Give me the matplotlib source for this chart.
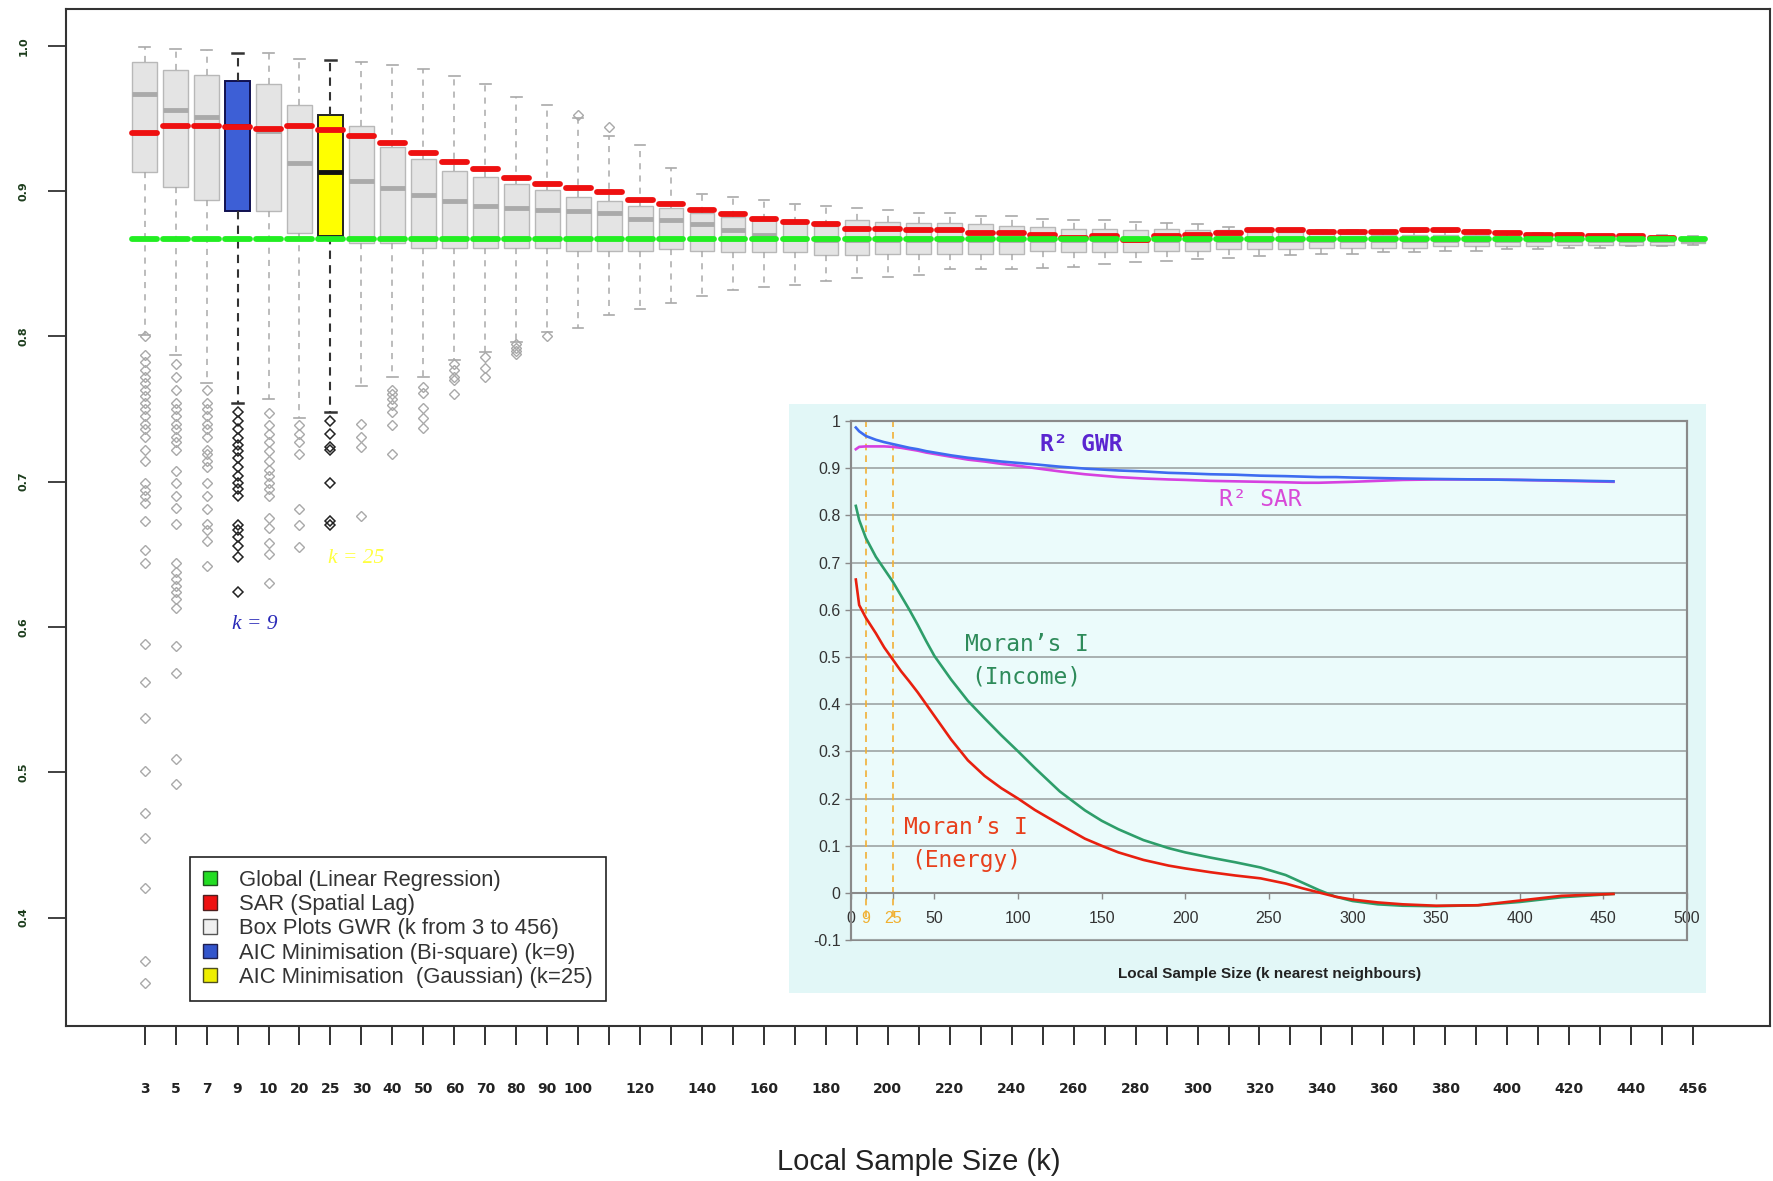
import numpy as np
import matplotlib
matplotlib.use('Agg')
import matplotlib.pyplot as plt
from matplotlib.patches import Patch, Rectangle

# ---------------- data ----------------
k_values = [3, 5, 7, 9, 10, 20, 25, 30, 40, 50, 60, 70, 80, 90, 100,
            110, 120, 130, 140, 150, 160, 170, 180, 190, 200, 210, 220, 230, 240, 250,
            260, 270, 280, 290, 300, 310, 320, 330, 340, 350, 360, 370, 380, 390, 400,
            410, 420, 430, 440, 450, 456]
tick_labels = ['3', '5', '7', '9', '10', '20', '25', '30', '40', '50', '60', '70', '80', '90', '100',
               '', '120', '', '140', '', '160', '', '180', '', '200', '', '220', '', '240', '',
               '260', '', '280', '', '300', '', '320', '', '340', '', '360', '', '380', '', '400',
               '', '420', '', '440', '', '456']

whis_hi = [0.999, 0.998, 0.997, 0.995, 0.995, 0.991, 0.990, 0.989, 0.987, 0.984,
           0.979, 0.974, 0.965, 0.959, 0.950, 0.938, 0.932, 0.916, 0.898, 0.896,
           0.894, 0.891, 0.890, 0.888, 0.887, 0.885, 0.885, 0.883, 0.883, 0.881,
           0.880, 0.880, 0.879, 0.878, 0.877, 0.875, 0.874, 0.874, 0.873, 0.873,
           0.872, 0.872, 0.872, 0.871, 0.871, 0.871, 0.870, 0.870, 0.870, 0.870, 0.869]
q3 = [0.989, 0.983, 0.980, 0.976, 0.974, 0.959, 0.952, 0.945, 0.930, 0.922,
      0.914, 0.910, 0.905, 0.901, 0.896, 0.893, 0.890, 0.888, 0.885, 0.882,
      0.880, 0.878, 0.876, 0.880, 0.879, 0.878, 0.878, 0.877, 0.876, 0.875,
      0.874, 0.874, 0.873, 0.874, 0.873, 0.873, 0.872, 0.872, 0.871, 0.871,
      0.870, 0.870, 0.870, 0.870, 0.869, 0.869, 0.869, 0.869, 0.868, 0.868, 0.868]
medians = [0.967, 0.956, 0.951, 0.945, 0.941, 0.919, 0.913, 0.907, 0.902, 0.897,
           0.893, 0.890, 0.888, 0.887, 0.886, 0.885, 0.881, 0.880, 0.877, 0.873,
           0.870, 0.867, 0.866, 0.866, 0.866, 0.866, 0.866, 0.866, 0.866, 0.866,
           0.866, 0.866, 0.866, 0.866, 0.866, 0.866, 0.866, 0.866, 0.866, 0.866,
           0.866, 0.866, 0.866, 0.866, 0.866, 0.866, 0.866, 0.866, 0.866, 0.866, 0.866]
q1 = [0.913, 0.903, 0.894, 0.886, 0.886, 0.871, 0.869, 0.864, 0.864, 0.861,
      0.861, 0.861, 0.861, 0.861, 0.859, 0.859, 0.859, 0.860, 0.859, 0.858,
      0.858, 0.858, 0.856, 0.856, 0.857, 0.857, 0.857, 0.857, 0.857, 0.859,
      0.858, 0.858, 0.858, 0.859, 0.859, 0.860, 0.860, 0.860, 0.861, 0.861,
      0.861, 0.861, 0.862, 0.862, 0.862, 0.862, 0.863, 0.863, 0.863, 0.863, 0.864]
whis_lo = [0.801, 0.787, 0.768, 0.754, 0.757, 0.744, 0.748, 0.766, 0.772, 0.772,
           0.784, 0.789, 0.796, 0.803, 0.806, 0.815, 0.819, 0.823, 0.828, 0.832,
           0.834, 0.835, 0.838, 0.840, 0.841, 0.842, 0.846, 0.846, 0.846, 0.847,
           0.848, 0.850, 0.851, 0.852, 0.853, 0.854, 0.855, 0.856, 0.857, 0.857,
           0.858, 0.858, 0.859, 0.859, 0.860, 0.860, 0.861, 0.861, 0.862, 0.862, 0.863]
outliers = {
    3: [0.800, 0.787, 0.782, 0.777, 0.772, 0.768, 0.763, 0.759, 0.754, 0.750, 0.745, 0.740,
        0.736, 0.731, 0.722, 0.714, 0.699, 0.694, 0.690, 0.685, 0.673, 0.653, 0.644, 0.588,
        0.562, 0.537, 0.501, 0.472, 0.455, 0.420, 0.370, 0.355],
    5: [0.781, 0.772, 0.763, 0.754, 0.750, 0.745, 0.740, 0.736, 0.731, 0.727, 0.722, 0.707,
        0.699, 0.690, 0.682, 0.671, 0.644, 0.638, 0.633, 0.628, 0.624, 0.619, 0.613, 0.587,
        0.568, 0.509, 0.492],
    7: [0.763, 0.754, 0.750, 0.745, 0.740, 0.736, 0.731, 0.722, 0.719, 0.714, 0.710, 0.699,
        0.690, 0.681, 0.671, 0.667, 0.659, 0.642],
    9: [0.748, 0.742, 0.736, 0.730, 0.725, 0.721, 0.716, 0.710, 0.704, 0.699, 0.695, 0.690,
        0.670, 0.667, 0.662, 0.656, 0.648, 0.624],
    10: [0.747, 0.739, 0.733, 0.727, 0.721, 0.714, 0.708, 0.704, 0.699, 0.695, 0.690, 0.675,
         0.668, 0.658, 0.650, 0.630],
    20: [0.739, 0.733, 0.727, 0.719, 0.681, 0.670, 0.655],
    25: [0.742, 0.733, 0.724, 0.722, 0.699, 0.673, 0.670],
    30: [0.740, 0.731, 0.724, 0.676],
    40: [0.763, 0.760, 0.757, 0.753, 0.748, 0.739, 0.719],
    50: [0.765, 0.761, 0.751, 0.744, 0.737],
    60: [0.781, 0.777, 0.772, 0.770, 0.760],
    70: [0.786, 0.778, 0.772],
    80: [0.795, 0.792, 0.790, 0.788],
    90: [0.800],
    100: [0.952],
    110: [0.944],
}
sar_r2 = [0.940, 0.945, 0.945, 0.944, 0.943, 0.945, 0.942, 0.938, 0.933, 0.926,
          0.920, 0.915, 0.909, 0.905, 0.902, 0.899, 0.894, 0.891, 0.887, 0.884,
          0.881, 0.879, 0.877, 0.874, 0.874, 0.873, 0.873, 0.871, 0.871, 0.870,
          0.868, 0.869, 0.866, 0.869, 0.870, 0.871, 0.873, 0.873, 0.872, 0.872,
          0.872, 0.873, 0.873, 0.872, 0.871, 0.870, 0.870, 0.869, 0.869, 0.868, np.nan]
global_r2 = 0.867
aic_k = [9, 25]

# inset data
inset_k = [3, 5, 9, 15, 20, 25, 30, 35, 40, 45, 50, 60, 70, 80, 90, 100, 110, 125, 140, 150,
           160, 175, 190, 200, 215, 230, 245, 260, 270, 280, 290, 300, 315, 330, 350, 375,
           400, 425, 456]
gwr_line = [0.986, 0.978, 0.968, 0.960, 0.955, 0.951, 0.947, 0.943, 0.940, 0.936, 0.933, 0.927,
            0.922, 0.918, 0.914, 0.911, 0.908, 0.903, 0.899, 0.897, 0.895, 0.893, 0.890, 0.889,
            0.887, 0.886, 0.884, 0.883, 0.882, 0.881, 0.881, 0.880, 0.879, 0.878, 0.877, 0.876,
            0.875, 0.874, 0.872]
sar_line = [0.940, 0.945, 0.946, 0.946, 0.946, 0.945, 0.943, 0.940, 0.937, 0.933, 0.930, 0.924,
            0.918, 0.914, 0.909, 0.905, 0.900, 0.893, 0.887, 0.884, 0.881, 0.878, 0.876, 0.875,
            0.873, 0.872, 0.871, 0.870, 0.869, 0.869, 0.870, 0.871, 0.873, 0.875, 0.876, 0.876,
            0.875, 0.873, 0.871]
moran_income = [0.820, 0.790, 0.752, 0.712, 0.686, 0.660, 0.630, 0.600, 0.568, 0.534, 0.502, 0.452,
                0.407, 0.370, 0.334, 0.300, 0.265, 0.215, 0.175, 0.153, 0.135, 0.112, 0.095, 0.086,
                0.075, 0.065, 0.054, 0.038, 0.022, 0.006, -0.008, -0.017, -0.024, -0.027, -0.028,
                -0.026, -0.019, -0.009, -0.002]
moran_energy = [0.664, 0.610, 0.583, 0.550, 0.520, 0.495, 0.470, 0.448, 0.425, 0.400, 0.375, 0.325,
                0.281, 0.248, 0.222, 0.200, 0.176, 0.145, 0.115, 0.100, 0.086, 0.070, 0.058, 0.052,
                0.044, 0.037, 0.031, 0.020, 0.010, 0.001, -0.008, -0.014, -0.020, -0.024, -0.027,
                -0.026, -0.016, -0.006, -0.002]

# ---------------- figure ----------------
fig = plt.figure(figsize=(17.74, 11.81), dpi=100)
ax = fig.add_axes([0.0372, 0.1312, 0.9608, 0.8612])
ax.set_facecolor('white')

pos = np.arange(1, len(k_values) + 1)
stats = []
for i, k in enumerate(k_values):
    stats.append(dict(med=medians[i], q1=q1[i], q3=q3[i], whislo=whis_lo[i],
                      whishi=whis_hi[i], fliers=outliers.get(k, [])))

special = {9: ('#3d5fd6', '#101050'), 25: ('#ffff00', '#222222')}
grey_i = [i for i, k in enumerate(k_values) if k not in special]

grey = '#a9a9a9'
ax.bxp([stats[i] for i in grey_i], positions=[pos[i] for i in grey_i], widths=0.8,
       capwidths=0.34, patch_artist=True, manage_ticks=False,
       boxprops=dict(facecolor='#e4e4e4', edgecolor='#b8b8b8', linewidth=1.0),
       medianprops=dict(color='#aaaaaa', linewidth=3.5, solid_capstyle='butt'),
       whiskerprops=dict(color=grey, linestyle=(0, (4, 4)), linewidth=1.1),
       capprops=dict(color=grey, linewidth=1.2),
       flierprops=dict(marker='D', markersize=5.3, markerfacecolor='none',
                       markeredgecolor=grey, markeredgewidth=1.0),
       zorder=2)
for k, (fc, ec) in special.items():
    i = k_values.index(k)
    ax.bxp([stats[i]], positions=[pos[i]], widths=0.8, capwidths=0.34, patch_artist=True,
           manage_ticks=False,
           boxprops=dict(facecolor=fc, edgecolor=ec, linewidth=1.4),
           medianprops=dict(color='#111111', linewidth=3.5, solid_capstyle='butt'),
           whiskerprops=dict(color='#333333', linestyle=(0, (4, 3)), linewidth=1.5),
           capprops=dict(color='#333333', linewidth=1.8),
           flierprops=dict(marker='D', markersize=5.3, markerfacecolor='none',
                           markeredgecolor='#222222', markeredgewidth=1.1),
           zorder=2)

sar_arr = np.array(sar_r2)
ok = ~np.isnan(sar_arr)
red = ax.hlines(sar_arr[ok], pos[ok] - 0.40, pos[ok] + 0.40, colors='#ee1010', linewidth=4.2, zorder=3)
red.set_capstyle('round')
green = ax.hlines(np.full(len(pos), global_r2), pos - 0.40, pos + 0.40, colors='#22ee22',
                  linewidth=4.2, zorder=4)
green.set_capstyle('round')

ax.set_xlim(-1.54, 53.5)
ax.set_ylim(0.3253, 1.0253)

ax.set_xticks(pos)
ax.set_xticklabels(tick_labels, fontsize=10, fontweight='bold', family='DejaVu Sans')
ax.tick_params(axis='x', length=14, width=1.3, pad=26, colors='#222222')
yt = [0.4, 0.5, 0.6, 0.7, 0.8, 0.9, 1.0]
ax.set_yticks(yt)
ax.set_yticklabels(['0.4', '0.5', '0.6', '0.7', '0.8', '0.9', '1.0'], rotation=90, va='center',
                   fontsize=8, fontweight='bold', color='#1d3d1d')
ax.tick_params(axis='y', length=13, width=1.3, pad=14, color='#333333')
for s in ax.spines.values():
    s.set_color('#333333')
    s.set_linewidth(1.5)

ax.text(4.54, 0.602, 'k = 9', fontsize=15.5, style='italic', family='Liberation Serif',
        color='#2a2ab8', ha='center', va='center')
ax.text(7.83, 0.647, 'k = 25', fontsize=15.5, style='italic', family='Liberation Serif',
        color='#ffff40', ha='center', va='center')

handles = [Patch(facecolor='#22dd22', edgecolor='#1f4f1f', label='Global (Linear Regression)'),
           Patch(facecolor='#ee1111', edgecolor='#4f1f1f', label='SAR (Spatial Lag)'),
           Patch(facecolor='#f0f0f0', edgecolor='#555555', label='Box Plots GWR (k from 3 to 456)'),
           Patch(facecolor='#3355cc', edgecolor='#1f1f4f', label='AIC Minimisation (Bi-square) (k=9)'),
           Patch(facecolor='#eeee00', edgecolor='#4f4f1f', label='AIC Minimisation  (Gaussian) (k=25)')]
leg = ax.legend(handles=handles, loc='lower left', bbox_to_anchor=(0.0727, 0.0246),
                borderaxespad=0, fancybox=False, framealpha=1, edgecolor='#222222',
                prop=dict(family='Liberation Sans', size=15.8), labelspacing=0.15,
                handlelength=0.65, handleheight=0.65, handletextpad=1.0, borderpad=0.6)
leg.get_frame().set_linewidth(1.2)
for t in leg.get_texts():
    t.set_color('#333333')

fig.text(0.5178, 0.0161, 'Local Sample Size (k)', fontsize=21, family='Liberation Sans',
         color='#222222', ha='center', va='center')

# ---------------- inset ----------------
fig.add_artist(Rectangle((0.4445, 0.1592), 0.5172, 0.4987, transform=fig.transFigure,
                         facecolor='#e2f7f7', edgecolor='none', zorder=1))
ax2 = fig.add_axes([0.4796, 0.2039, 0.4714, 0.4397])
ax2.set_zorder(2)
ax2.set_facecolor('#ebfbfb')
ax2.patch.set_edgecolor('#8a8a8a')
ax2.patch.set_linewidth(1.5)
ax2.set_xlim(0, 500)
ax2.set_ylim(-0.1, 1.0)
yv = [-0.1, 0.0, 0.1, 0.2, 0.3, 0.4, 0.5, 0.6, 0.7, 0.8, 0.9, 1.0]
ax2.set_yticks(yv)
ax2.set_yticklabels(['-0.1', '0', '0.1', '0.2', '0.3', '0.4', '0.5', '0.6', '0.7', '0.8', '0.9', '1'])
ax2.grid(axis='y', color='#a3abab', linewidth=1.3)
ax2.set_axisbelow(True)
xv = [0, 9, 25, 50, 100, 150, 200, 250, 300, 350, 400, 450, 500]
ax2.set_xticks(xv)
ax2.set_xticklabels(['0', '9', '25', '50', '100', '150', '200', '250', '300', '350', '400', '450', '500'])
ax2.spines['bottom'].set_position(('data', 0))
for s in ['top', 'right', 'left', 'bottom']:
    ax2.spines[s].set_color('#8a8a8a')
    ax2.spines[s].set_linewidth(1.5)
ax2.tick_params(axis='both', labelsize=11.5, colors='#333333', length=4, width=1, color='#8a8a8a')
ax2.tick_params(axis='x', pad=9)
for lab in ax2.get_xticklabels() + ax2.get_yticklabels():
    lab.set_family('Liberation Sans')
for lab, val in zip(ax2.get_xticklabels(), xv):
    lab.set_color('#f0b030' if val in aic_k else '#333333')

ax2.vlines(aic_k, -0.05, 1.0, colors='#f2b035', linestyles=(0, (4, 3)), linewidth=1.2, zorder=2)
ax2.plot(inset_k, moran_income, color='#2e9e6a', linewidth=1.9, zorder=3)
ax2.plot(inset_k, moran_energy, color='#e8200f', linewidth=1.9, zorder=3)
ax2.plot(inset_k, sar_line, color='#d641e0', linewidth=1.9, zorder=3)
ax2.plot(inset_k, gwr_line, color='#3d6cf0', linewidth=1.9, zorder=4)

mono = 'DejaVu Sans Mono'
fs = 16.5
ax2.text(138, 0.951, 'R² GWR', fontsize=fs, family=mono, color='#5a25d0', fontweight='bold',
         ha='center', va='center')
ax2.text(245, 0.833, 'R² SAR', fontsize=fs, family=mono, color='#d84ad8',
         ha='center', va='center')
ax2.text(105, 0.527, "Moran’s I", fontsize=fs, family=mono, color='#2e8b5a', ha='center', va='center')
ax2.text(105, 0.458, "(Income)", fontsize=fs, family=mono, color='#2e8b5a', ha='center', va='center')
ax2.text(69, 0.139, "Moran’s I", fontsize=fs, family=mono, color='#e8401c', ha='center', va='center')
ax2.text(69, 0.068, "(Energy)", fontsize=fs, family=mono, color='#e8401c', ha='center', va='center')

fig.text(0.7156, 0.1753, 'Local Sample Size (k nearest neighbours)', fontsize=11,
         fontweight='bold', family='Liberation Sans', color='#222222', ha='center', va='center')

fig.savefig('out.png', dpi=100, facecolor='white')
